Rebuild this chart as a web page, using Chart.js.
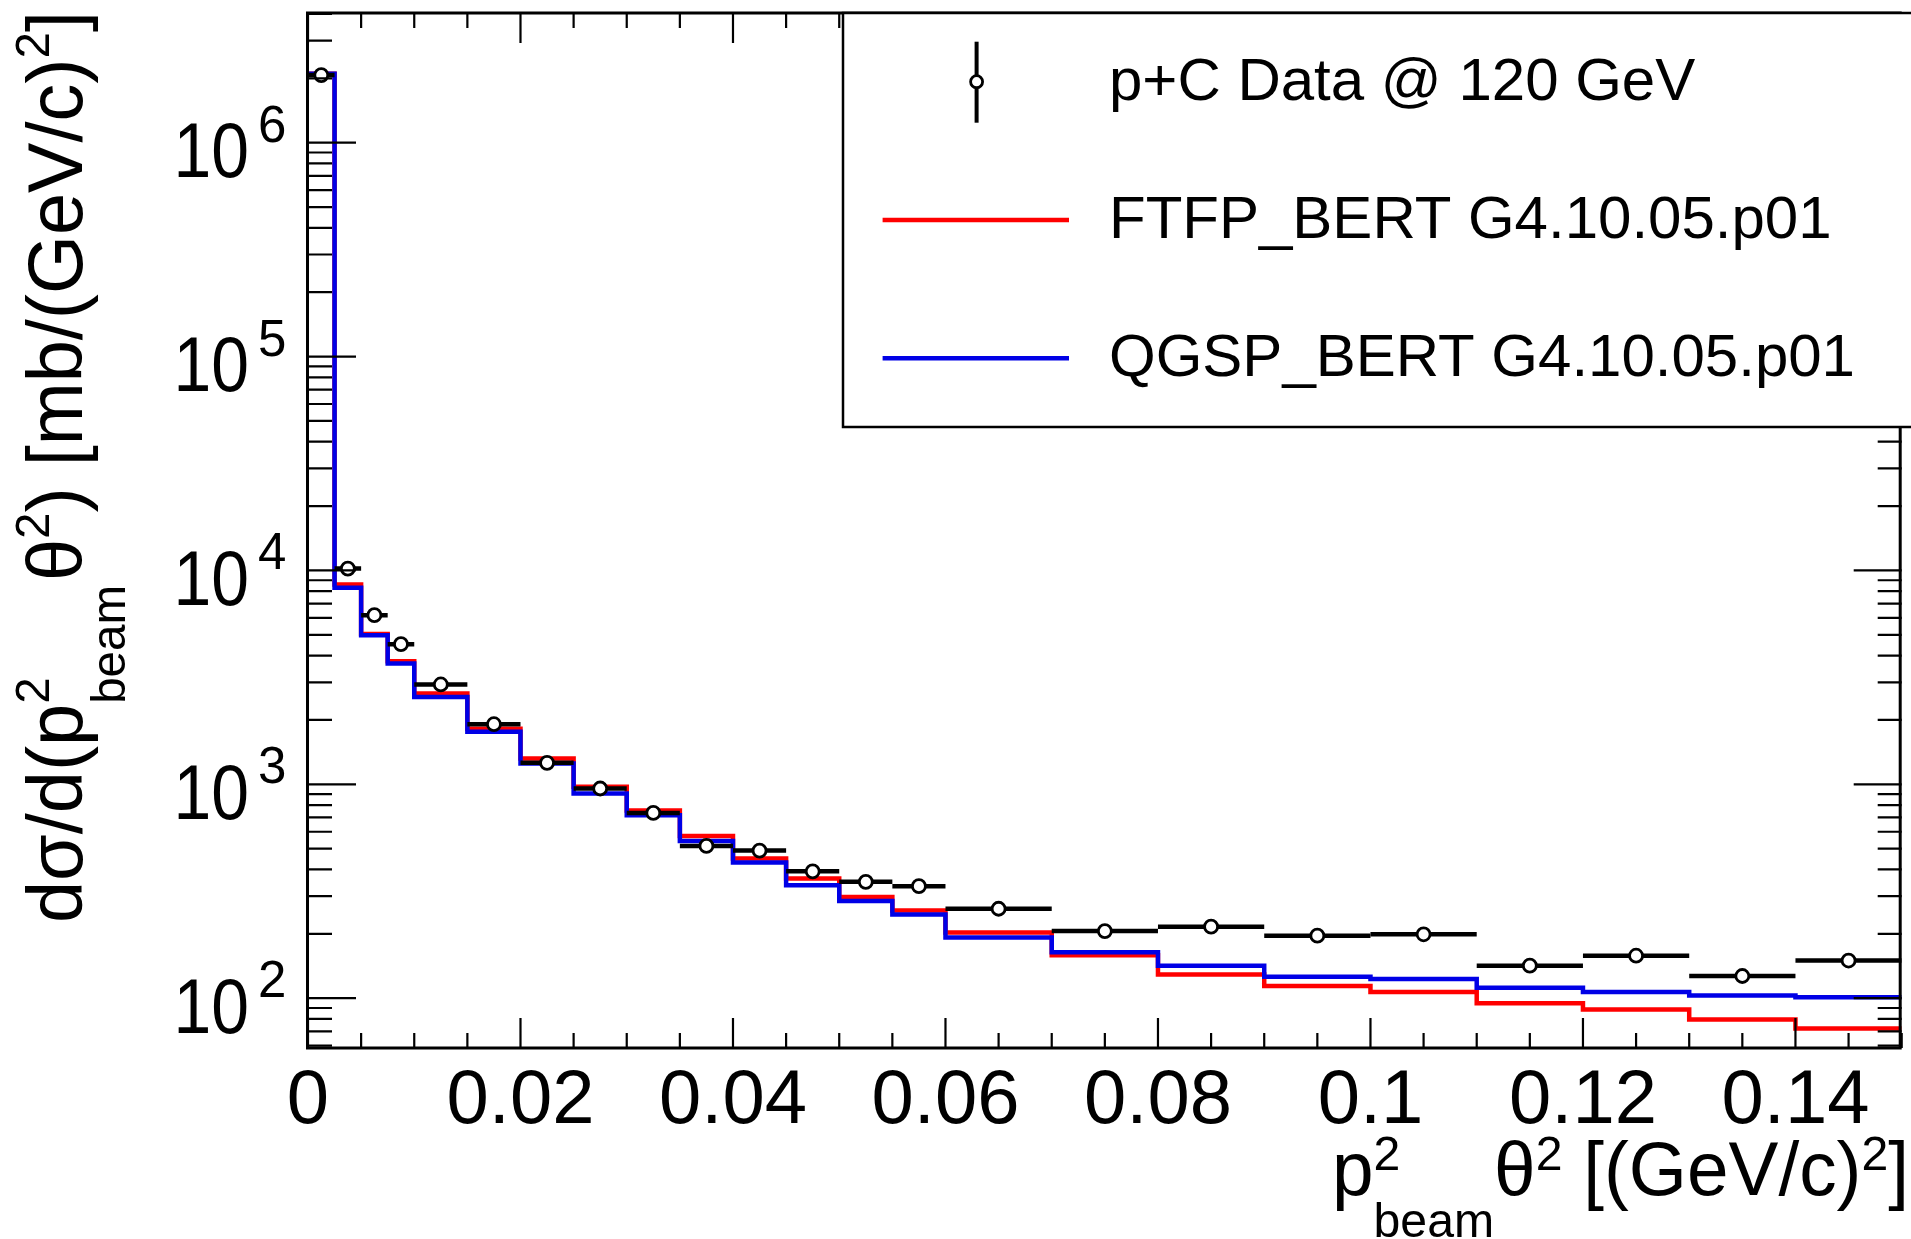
<!DOCTYPE html>
<html>
<head>
<meta charset="utf-8">
<script src="https://cdn.jsdelivr.net/npm/chart.js@4.4.1/dist/chart.umd.min.js"></script>
<style>
  html, body { margin: 0; padding: 0; background: #fff; }
  canvas { display: block; }
</style>
</head>
<body>
<canvas id="xsec" width="1911" height="1239"></canvas>
<script>
// bin edges in p_beam^2 theta^2 [(GeV/c)^2]
const binEdges = [0, 0.0025, 0.005, 0.0075, 0.01, 0.015, 0.02, 0.025, 0.03, 0.035,
  0.04, 0.045, 0.05, 0.055, 0.06, 0.07, 0.08, 0.09, 0.10, 0.11, 0.12, 0.13, 0.14, 0.15];

// dsigma/d(p^2 theta^2) [mb/(GeV/c)^2], one value per bin
const dataValues = [2.07e6, 10200, 6180, 4520, 2930, 1910, 1260, 956, 735, 515,
  490, 392, 350, 334, 262, 206, 216, 196, 199, 142, 158, 127, 150];
const ftfpValues = [2.1e6, 8600, 5050, 3760, 2660, 1820, 1320, 975, 755, 574,
  450, 363, 297, 257, 203, 159, 129, 114, 107, 94.6, 88.6, 79.6, 72.2];
const qgspValues = [2.1e6, 8300, 4980, 3670, 2560, 1760, 1250, 906, 716, 543,
  431, 337, 285, 246, 192, 164, 142, 126, 123, 112, 107, 103, 101];

const xMajorTicks = [0, 0.02, 0.04, 0.06, 0.08, 0.1, 0.12, 0.14];
const xTickLabels = ['0', '0.02', '0.04', '0.06', '0.08', '0.1', '0.12', '0.14'];
const yDecades = [2, 3, 4, 5, 6];

const FONT = '"Liberation Sans", Arial, Helvetica, sans-serif';

// histogram outline: two points per bin so the steps are square
function histPoints(values) {
  const pts = [];
  values.forEach((v, i) => {
    pts.push({ x: binEdges[i], y: v });
    pts.push({ x: binEdges[i + 1], y: v });
  });
  return pts;
}

const dataPoints = dataValues.map((v, i) => ({ x: (binEdges[i] + binEdges[i + 1]) / 2, y: v }));

// text with stacked super/subscripts, drawn along +x from the origin
function richText(ctx, segs, f, draw) {
  let x = 0;
  segs.forEach(s => {
    if (s.t !== undefined) {
      ctx.font = f.main;
      if (draw) ctx.fillText(s.t, x, 0);
      x += ctx.measureText(s.t).width;
    } else {
      ctx.font = f.small;
      let w = 0;
      if (s.sup) {
        if (draw) ctx.fillText(s.sup, x, -f.rise);
        w = Math.max(w, ctx.measureText(s.sup).width);
      }
      if (s.sub) {
        if (draw) ctx.fillText(s.sub, x, f.drop);
        w = Math.max(w, ctx.measureText(s.sub).width);
      }
      x += w + (s.gap || 0);
    }
  });
  return x;
}

const errorBars = {
  id: 'errorBars',
  beforeDatasetDraw(chart, args) {
    if (args.index !== 0) return;
    const { ctx, chartArea: a, scales: { x, y } } = chart;
    ctx.save();
    ctx.beginPath();
    ctx.rect(a.left, a.top, a.right - a.left, a.bottom - a.top);
    ctx.clip();
    ctx.strokeStyle = '#000';
    ctx.lineWidth = 4.5;
    dataValues.forEach((v, i) => {
      const py = y.getPixelForValue(v);
      ctx.beginPath();
      ctx.moveTo(x.getPixelForValue(binEdges[i]), py);
      ctx.lineTo(x.getPixelForValue(binEdges[i + 1]), py);
      ctx.stroke();
    });
    ctx.restore();
  }
};

const rootFrame = {
  id: 'rootFrame',
  afterDraw(chart) {
    const { ctx, chartArea: a, scales: { x, y } } = chart;
    ctx.save();
    ctx.strokeStyle = '#000';
    ctx.fillStyle = '#000';

    // ticks (inward, ROOT style)
    ctx.lineWidth = 2.2;
    ctx.beginPath();
    for (let k = 0; k <= 30; k++) {
      const v = k * 0.005;
      const px = x.getPixelForValue(v);
      const len = k % 4 === 0 ? 30 : 15;
      ctx.moveTo(px, a.bottom); ctx.lineTo(px, a.bottom - len);
      ctx.moveTo(px, a.top); ctx.lineTo(px, a.top + len);
    }
    for (let n = 1; n <= 6; n++) {
      for (let m = 1; m <= 9; m++) {
        const v = m * Math.pow(10, n);
        if (v < y.min || v > y.max) continue;
        const py = y.getPixelForValue(v);
        const len = m === 1 ? 48 : 24;
        ctx.moveTo(a.left, py); ctx.lineTo(a.left + len, py);
        ctx.moveTo(a.right, py); ctx.lineTo(a.right - len, py);
      }
    }
    ctx.stroke();

    // frame
    ctx.lineWidth = 3;
    ctx.strokeRect(a.left - 0.5, a.top, a.right - a.left - 1, a.bottom - a.top);

    // x tick labels
    ctx.font = '76px ' + FONT;
    ctx.textAlign = 'center';
    ctx.textBaseline = 'alphabetic';
    xMajorTicks.forEach((v, i) => ctx.fillText(xTickLabels[i], x.getPixelForValue(v), 1123));

    // y tick labels 10^n
    yDecades.forEach(n => {
      const py = y.getPixelForValue(Math.pow(10, n));
      ctx.save();
      ctx.translate(249, py + 34.5);
      ctx.scale(0.87, 1);
      ctx.font = '78px ' + FONT;
      ctx.textAlign = 'right';
      ctx.fillText('10', 0, 0);
      ctx.restore();
      ctx.font = '51px ' + FONT;
      ctx.textAlign = 'left';
      ctx.fillText(String(n), 258, py - 1);
    });

    // x axis title, right aligned
    const xf = { main: '76px ' + FONT, small: '49px ' + FONT, rise: 25, drop: 42 };
    const xSegs = [{ t: 'p' }, { sup: '2', sub: 'beam' }, { t: 'θ' }, { sup: '2' },
      { t: ' [(GeV/c)' }, { sup: '2' }, { t: ']' }];
    ctx.textAlign = 'left';
    const xw = richText(ctx, xSegs, xf, false);
    const xs = 577 / xw;
    ctx.save();
    ctx.translate(1332, 1195);
    ctx.scale(xs, 1);
    richText(ctx, xSegs, xf, true);
    ctx.restore();

    // y axis title, rotated, ending at the top
    const yf = { main: '78px ' + FONT, small: '49px ' + FONT, rise: 33, drop: 43 };
    const ySegs = [{ t: 'dσ/d(p' }, { sup: '2', sub: 'beam', gap: 4 }, { t: 'θ' }, { sup: '2' },
      { t: ') [mb/(GeV/c)' }, { sup: '2' }, { t: ']' }];
    const yw = richText(ctx, ySegs, yf, false);
    const ys = 912 / yw;
    ctx.save();
    ctx.translate(81.7, 923);
    ctx.rotate(-Math.PI / 2);
    ctx.scale(ys, 1);
    richText(ctx, ySegs, yf, true);
    ctx.restore();

    // legend box
    const lx = 843, ly = a.top, lr = chart.width, lb = 427;
    ctx.fillStyle = '#fff';
    ctx.fillRect(lx, ly, lr - lx, lb - ly);
    ctx.lineWidth = 2.5;
    ctx.strokeStyle = '#000';
    ctx.strokeRect(lx, ly, lr - lx + 5, lb - ly);

    const ds = chart.data.datasets;
    const entries = [
      { d: ds[0], base: 100, mid: 81.7, kind: 'marker' },
      { d: ds[2], base: 238, mid: 220, kind: 'line' },
      { d: ds[1], base: 376, mid: 358.3, kind: 'line' }
    ];
    entries.forEach(e => {
      if (e.kind === 'marker') {
        ctx.strokeStyle = '#000';
        ctx.lineWidth = 4;
        ctx.beginPath();
        ctx.moveTo(976.6, 41.7); ctx.lineTo(976.6, 122.7);
        ctx.stroke();
        ctx.beginPath();
        ctx.arc(976.6, e.mid, 6, 0, Math.PI * 2);
        ctx.fillStyle = '#fff';
        ctx.fill();
        ctx.lineWidth = 2.8;
        ctx.stroke();
      } else {
        ctx.strokeStyle = e.d.borderColor;
        ctx.lineWidth = 4.5;
        ctx.beginPath();
        ctx.moveTo(882.6, e.mid); ctx.lineTo(1069, e.mid);
        ctx.stroke();
      }
      ctx.fillStyle = '#000';
      ctx.font = '60px ' + FONT;
      ctx.textAlign = 'left';
      ctx.fillText(e.d.label, 1109, e.base);
    });
    ctx.restore();
  }
};

new Chart(document.getElementById('xsec'), {
  type: 'scatter',
  data: {
    datasets: [
      {
        label: 'p+C Data @ 120 GeV',
        data: dataPoints,
        pointRadius: 6.5,
        pointBorderWidth: 2.8,
        pointBackgroundColor: '#fff',
        pointBorderColor: '#000',
        showLine: false
      },
      {
        label: 'QGSP_BERT G4.10.05.p01',
        data: histPoints(qgspValues),
        showLine: true,
        borderColor: '#0000e6',
        borderWidth: 4.5,
        borderJoinStyle: 'miter',
        pointRadius: 0,
        fill: false
      },
      {
        label: 'FTFP_BERT G4.10.05.p01',
        data: histPoints(ftfpValues),
        showLine: true,
        borderColor: '#ff0000',
        borderWidth: 4.5,
        borderJoinStyle: 'miter',
        pointRadius: 0,
        fill: false
      }
    ]
  },
  options: {
    responsive: false,
    animation: false,
    devicePixelRatio: 1,
    layout: { padding: { left: 308, top: 13, right: 0, bottom: 191 } },
    scales: {
      x: { type: 'linear', display: false, min: 0, max: 0.15 },
      y: { type: 'logarithmic', display: false, min: 58.5, max: 4.04e6 }
    },
    plugins: {
      legend: { display: false },
      tooltip: { enabled: false }
    }
  },
  plugins: [errorBars, rootFrame]
});
</script>
</body>
</html>
